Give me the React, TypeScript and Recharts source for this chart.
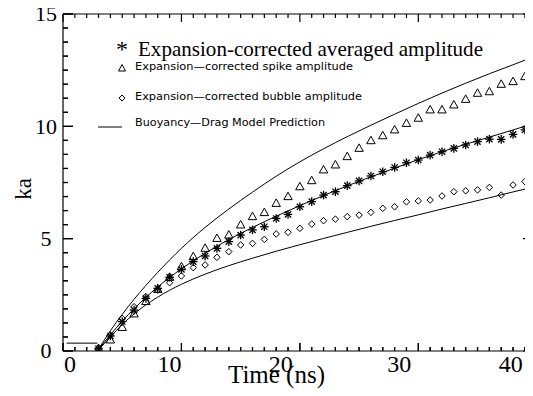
import React from "react";
import { ComposedChart, Line, Scatter, XAxis, YAxis } from "recharts";

// ---------- data ----------
const times = [3, 4, 5, 6, 7, 8, 9, 10, 11, 12, 13, 14, 15, 16, 17, 18, 19, 20, 21, 22, 23, 24, 25, 26, 27, 28, 29, 30, 31, 32, 33, 34, 35, 36, 37, 38, 39];
const avgAmp = [0.1, 0.67, 1.31, 1.82, 2.34, 2.79, 3.28, 3.63, 3.98, 4.23, 4.57, 4.87, 5.16, 5.39, 5.53, 5.9, 6.08, 6.42, 6.65, 6.94, 7.09, 7.36, 7.57, 7.79, 7.98, 8.17, 8.38, 8.5, 8.72, 8.87, 9.02, 9.17, 9.32, 9.43, 9.42, 9.64, 9.84];
const spikeAmp = [0.1, 0.49, 1.05, 1.65, 2.2, 2.74, 3.28, 3.75, 4.2, 4.57, 5.01, 5.16, 5.61, 5.98, 6.16, 6.57, 6.87, 7.31, 7.58, 8.06, 8.28, 8.65, 9.02, 9.36, 9.58, 9.84, 10.13, 10.36, 10.73, 10.73, 10.95, 11.2, 11.47, 11.54, 11.87, 11.99, 12.21];
const bubbleAmp = [0.15, 0.71, 1.45, 1.97, 2.42, 2.71, 3.04, 3.34, 3.71, 3.83, 4.17, 4.42, 4.72, 4.79, 4.97, 5.21, 5.28, 5.46, 5.65, 5.8, 5.87, 5.98, 6.05, 6.17, 6.35, 6.42, 6.64, 6.68, 6.72, 6.9, 7.09, 7.13, 7.17, 7.28, 6.94, 7.39, 7.54];

const modelT = [2.9, 4, 5, 6, 8, 10, 12, 14, 16, 18, 20, 22, 24, 26, 28, 30, 32, 34, 36, 38, 39.6];
const modelUpperKa = [0, 0.9, 1.63, 2.3, 3.5, 4.57, 5.5, 6.32, 7.07, 7.78, 8.42, 9.0, 9.54, 10.05, 10.54, 11.02, 11.48, 11.92, 12.34, 12.74, 13.07];
const modelMidKa = [0, 0.72, 1.33, 1.88, 2.85, 3.66, 4.35, 4.96, 5.5, 6.0, 6.47, 6.92, 7.35, 7.75, 8.14, 8.52, 8.87, 9.2, 9.52, 9.84, 10.1];
const modelLowKa = [0, 0.62, 1.18, 1.65, 2.4, 2.97, 3.42, 3.8, 4.13, 4.44, 4.73, 5.01, 5.28, 5.55, 5.81, 6.06, 6.32, 6.57, 6.82, 7.08, 7.28];
const initialT = [0.3, 2.9];
const initialKa = [0.35, 0.35];

const xLabelShift: Record<number, number> = { 0: 7, 10: -12, 20: -19, 30: -19, 40: -26 };
const yMajorTicks = [0, 5, 10, 15];

const legendTitle = "Expansion-corrected averaged amplitude";
const legendSpike = "Expansion\u2014corrected spike amplitude";
const legendBubble = "Expansion\u2014corrected bubble amplitude";
const legendModel = "Buoyancy\u2014Drag Model Prediction";
const xTitle = "Time (ns)";
const yTitle = "ka";

// ---------- derived tables ----------
const zip = (ts: number[], ks: number[]) => ts.map((t, i) => ({ t, ka: ks[i] }));
const avgData = zip(times, avgAmp);
const spikeData = zip(times, spikeAmp);
const bubbleData = zip(times, bubbleAmp);
const upperData = zip(modelT, modelUpperKa);
const midData = zip(modelT, modelMidKa);
const lowData = zip(modelT, modelLowKa);
const initData = zip(initialT, initialKa);

const xTicksAll: number[] = [];
for (let i = 0; i <= 40; i++) xTicksAll.push(i);
const yTicksAll: number[] = [];
for (let i = 0; i <= 24; i++) yTicksAll.push(i * 0.625);

const SERIF = "'Liberation Serif', 'Times New Roman', serif";
const SANS = "'DejaVu Sans', sans-serif";
const TICK_COLOR = "#000";
const TICK_W = 1.2;

// ---------- layout ----------
const W = 533;
const H = 396;
const MARGIN = { top: 13, right: 0, bottom: 15, left: 23 };
const X_AXIS_H = 30;
const TOP_AXIS_H = 1;
const Y_AXIS_W = 40;
const RIGHT_AXIS_W = 1;
const PLOT_H = H - MARGIN.top - MARGIN.bottom - X_AXIS_H - TOP_AXIS_H;
const PLOT_W = W - MARGIN.left - MARGIN.right - Y_AXIS_W - RIGHT_AXIS_W;

// ---------- marker shapes ----------
const Tri = (p: any) => {
  const { cx, cy } = p;
  if (cx == null || cy == null) return null;
  return <polygon points={`${cx},${cy - 4.5} ${cx - 4.2},${cy + 3} ${cx + 4.2},${cy + 3}`} fill="none" stroke="#000" strokeWidth={1} />;
};
const Dia = (p: any) => {
  const { cx, cy } = p;
  if (cx == null || cy == null) return null;
  return <polygon points={`${cx},${cy - 3.3} ${cx + 3.2},${cy} ${cx},${cy + 3.3} ${cx - 3.2},${cy}`} fill="none" stroke="#000" strokeWidth={1} />;
};
const Star = (p: any) => {
  const { cx, cy } = p;
  if (cx == null || cy == null) return null;
  const r = 4.3;
  const d = r * 0.72;
  return (
    <g stroke="#000" strokeWidth={1.3}>
      <line x1={cx} y1={cy - r} x2={cx} y2={cy + r} />
      <line x1={cx - r} y1={cy} x2={cx + r} y2={cy} />
      <line x1={cx - d} y1={cy - d} x2={cx + d} y2={cy + d} />
      <line x1={cx - d} y1={cy + d} x2={cx + d} y2={cy - d} />
    </g>
  );
};

// ---------- tick renderers ----------
const BottomTick = (p: any) => {
  const { x, y, payload } = p;
  const v = payload.value;
  const major = v % 10 === 0;
  return (
    <g>
      {v <= 39.6 && <line x1={x} y1={y} x2={x} y2={y - (major ? 8 : 4)} stroke={TICK_COLOR} strokeWidth={TICK_W} />}
      {major && (
        <text x={x + (xLabelShift[v] || 0)} y={y + 21} textAnchor="middle" fontFamily={SERIF} fontSize={24} fill="#000" stroke="none">
          {v}
        </text>
      )}
    </g>
  );
};
// top axis draws its own inward ticks and mirrors them onto the bottom frame edge
const TopTick = (p: any) => {
  const { x, y, payload } = p;
  const v = payload.value;
  if (v > 39.6) return <g />;
  const len = v % 10 === 0 ? 8 : 4;
  const yb = y + PLOT_H;
  return (
    <g>
      <line x1={x} y1={y} x2={x} y2={y + len} stroke={TICK_COLOR} strokeWidth={TICK_W} />
      <line x1={x} y1={yb} x2={x} y2={yb - len} stroke={TICK_COLOR} strokeWidth={TICK_W} />
    </g>
  );
};
const LeftTick = (p: any) => {
  const { x, y, payload } = p;
  const v = payload.value;
  const major = Math.abs(v % 5) < 1e-6;
  return (
    <g>
      <line x1={x} y1={y} x2={x + (major ? 10 : 5)} y2={y} stroke={TICK_COLOR} strokeWidth={TICK_W} />
      {major && yMajorTicks.includes(v) && (
        <text x={x - 17} y={y + 7.4} textAnchor="middle" fontFamily={SERIF} fontSize={22} fill="#000" stroke="none">
          {v}
        </text>
      )}
    </g>
  );
};
// right axis draws its own inward ticks and mirrors them onto the left frame edge
const RightTick = (p: any) => {
  const { x, y, payload } = p;
  const v = payload.value;
  const major = Math.abs(v % 5) < 1e-6;
  const xl = x - PLOT_W;
  return (
    <g>
      <line x1={x} y1={y} x2={x - (major ? 9 : 4)} y2={y} stroke={TICK_COLOR} strokeWidth={TICK_W} />
      <line x1={xl} y1={y} x2={xl + (major ? 10 : 5)} y2={y} stroke={TICK_COLOR} strokeWidth={TICK_W} />
    </g>
  );
};

const axisLine = { stroke: "#000", strokeWidth: 1.2 };

export default function App() {
  return (
    <div style={{ position: "relative", width: W, height: H, margin: "-8px 0 0 -8px", background: "#fff", overflow: "hidden" }}>
      <ComposedChart width={W} height={H} margin={MARGIN}>
        <XAxis xAxisId="b" dataKey="t" type="number" domain={[0, 39.6]} ticks={xTicksAll} interval={0} tick={<BottomTick />} tickSize={0} tickMargin={0} tickLine={false} axisLine={axisLine} height={X_AXIS_H} allowDataOverflow />
        <XAxis xAxisId="top" orientation="top" dataKey="t" type="number" domain={[0, 39.6]} ticks={xTicksAll} interval={0} tick={<TopTick />} tickSize={0} tickMargin={0} tickLine={false} axisLine={axisLine} height={TOP_AXIS_H} allowDataOverflow />
        <YAxis yAxisId="l" dataKey="ka" type="number" domain={[0, 15]} ticks={yTicksAll} interval={0} tick={<LeftTick />} tickSize={0} tickMargin={0} tickLine={false} axisLine={axisLine} width={Y_AXIS_W} allowDataOverflow />
        <YAxis yAxisId="r" orientation="right" dataKey="ka" type="number" domain={[0, 15]} ticks={yTicksAll} interval={0} tick={<RightTick />} tickSize={0} tickMargin={0} tickLine={false} axisLine={axisLine} width={RIGHT_AXIS_W} allowDataOverflow />
        <Line xAxisId="top" yAxisId="r" data={upperData} dataKey="ka" type="monotone" stroke="none" dot={false} isAnimationActive={false} />
        <Line xAxisId="b" yAxisId="l" data={initData} dataKey="ka" type="linear" stroke="#000" strokeWidth={1} dot={false} isAnimationActive={false} />
        <Line xAxisId="b" yAxisId="l" data={upperData} dataKey="ka" type="monotone" stroke="#000" strokeWidth={1} dot={false} isAnimationActive={false} />
        <Line xAxisId="b" yAxisId="l" data={midData} dataKey="ka" type="monotone" stroke="#000" strokeWidth={1} dot={false} isAnimationActive={false} />
        <Line xAxisId="b" yAxisId="l" data={lowData} dataKey="ka" type="monotone" stroke="#000" strokeWidth={1} dot={false} isAnimationActive={false} />
        <Scatter xAxisId="b" yAxisId="l" data={spikeData} dataKey="ka" shape={<Tri />} isAnimationActive={false} />
        <Scatter xAxisId="b" yAxisId="l" data={bubbleData} dataKey="ka" shape={<Dia />} isAnimationActive={false} />
        <Scatter xAxisId="b" yAxisId="l" data={avgData} dataKey="ka" shape={<Star />} isAnimationActive={false} />
      </ComposedChart>
      <svg width={W} height={H} style={{ position: "absolute", left: 0, top: 0, pointerEvents: "none" }}>
        <text x={122} y={57} textAnchor="middle" fontFamily={SERIF} fontSize={24} fill="#000">*</text>
        <text x={138} y={56} fontFamily={SERIF} fontSize={21} fill="#000" textLength={345} lengthAdjust="spacingAndGlyphs">
          {legendTitle}
        </text>
        <polygon points="122,64.5 118.5,71 125.5,71" fill="none" stroke="#000" strokeWidth={1} />
        <text x={135} y={70} fontFamily={SANS} fontSize={10} fill="#000" textLength={218} lengthAdjust="spacingAndGlyphs">
          {legendSpike}
        </text>
        <polygon points="122,95 125,98 122,101 119,98" fill="none" stroke="#000" strokeWidth={1} />
        <text x={135} y={99.5} fontFamily={SANS} fontSize={10} fill="#000" textLength={227} lengthAdjust="spacingAndGlyphs">
          {legendBubble}
        </text>
        <line x1={98} y1={127} x2={122} y2={127} stroke="#000" strokeWidth={1} />
        <text x={135} y={125.5} fontFamily={SANS} fontSize={10} fill="#000" textLength={190} lengthAdjust="spacingAndGlyphs">
          {legendModel}
        </text>
        <text x={276.5} y={383} textAnchor="middle" fontFamily={SERIF} fontSize={25} fill="#000">
          {xTitle}
        </text>
        <text x={0} y={0} transform="translate(31,189) rotate(-90)" textAnchor="middle" fontFamily={SERIF} fontSize={23} fill="#000">
          {yTitle}
        </text>
      </svg>
    </div>
  );
}
